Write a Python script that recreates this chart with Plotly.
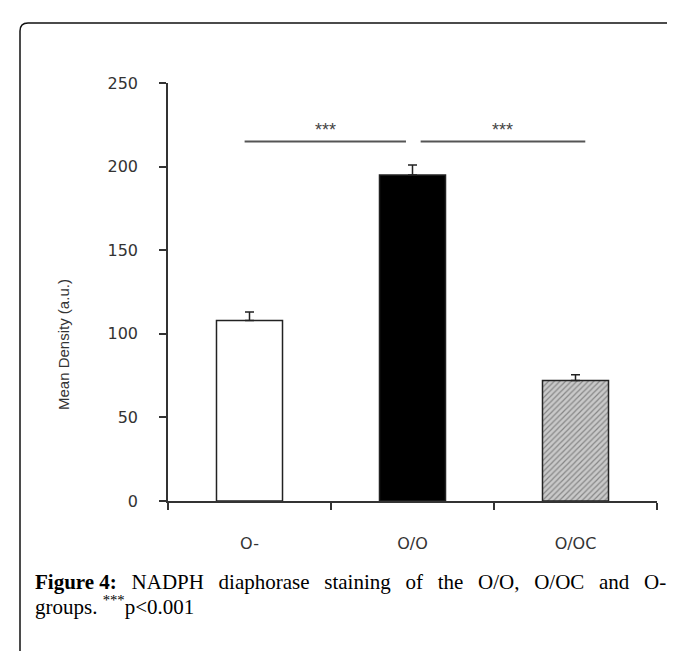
import plotly.graph_objects as go

# ---- data ----
categories = ["O-", "O/O", "O/OC"]
mean_density = [108, 195, 72]
sem = [5, 6, 3.5]
comparisons = [(0, 1, "***"), (1, 2, "***")]
sig_level = 215
y_ticks = [0, 50, 100, 150, 200, 250]
y_title = "Mean Density (a.u.)"
caption_bold = "Figure 4:"
caption_line1 = "NADPH diaphorase staining of the O/O, O/OC and O-"
caption_line2 = "groups. <sup>***</sup>p<0.001"

W, H = 675, 651
L, R, T, B = 160, 26, 75, 158
pw, ph = W - L - R, H - T - B


def px_x(px):
    return (px - L) / pw


def px_y(py):
    return (H - B - py) / ph


fig = go.Figure()

fills = ["white", "black", "#c9c9c9"]
patterns = ["", "", "/"]
fig.add_trace(go.Bar(
    x=categories,
    y=mean_density,
    width=0.405,
    marker=dict(
        color=fills,
        line=dict(color="#222222", width=1.5),
        pattern=dict(shape=patterns, fgcolor="#6a6a6a", bgcolor="#d4d4d4",
                     size=4, solidity=0.3),
    ),
    error_y=dict(type="data", array=sem, arrayminus=[0] * len(sem),
                 color="#222222", thickness=1.5, width=4.5),
    showlegend=False,
))

# significance brackets
shapes = []
annotations = []
for a, b, lab in comparisons:
    x0 = a - 0.03 if a == 0 else a + 0.05
    x1 = b - 0.04 if b == 1 else b + 0.06
    shapes.append(dict(type="line", xref="x", yref="y", x0=x0, x1=x1,
                       y0=sig_level, y1=sig_level,
                       line=dict(color="#555555", width=2)))
    annotations.append(dict(x=(x0 + x1) / 2, y=sig_level, xref="x", yref="y",
                            text=lab, showarrow=False, yanchor="bottom", yshift=0,
                            font=dict(family="Liberation Sans", size=18, color="#444")))

# frame (rounded top-left corner, runs off right and bottom)
fx0, fy0, r = 12, 15, 8
path = (f"M {px_x(fx0)} {px_y(H + 10)} L {px_x(fx0)} {px_y(fy0 + r)} "
        f"Q {px_x(fx0)} {px_y(fy0)} {px_x(fx0 + r)} {px_y(fy0)} "
        f"L {px_x(W + 10)} {px_y(fy0)}")
shapes.append(dict(type="path", xref="paper", yref="paper", path=path,
                   line=dict(color="#111111", width=1.5)))

# y title
annotations.append(dict(x=px_x(55), y=px_y(337), xref="paper", yref="paper",
                        text=y_title, textangle=-90, showarrow=False,
                        xanchor="center", yanchor="middle",
                        font=dict(family="Liberation Sans", size=15, color="#333")))

# caption
nb = "\u00a0\u00a0\u2009"
line1 = nb.join(caption_line1.split(" "))
annotations.append(dict(x=px_x(25), y=px_y(574), xref="paper", yref="paper",
                        text=f"<b>{caption_bold}</b>{nb}{line1}", showarrow=False,
                        xanchor="left", yanchor="middle", align="left",
                        font=dict(family="Liberation Serif", size=21, color="black")))
annotations.append(dict(x=px_x(25), y=px_y(597), xref="paper", yref="paper",
                        text=caption_line2, showarrow=False,
                        xanchor="left", yanchor="middle", align="left",
                        font=dict(family="Liberation Serif", size=21, color="black")))

fig.update_layout(
    width=W, height=H,
    margin=dict(l=L, r=R, t=T, b=B, pad=0),
    plot_bgcolor="white", paper_bgcolor="white",
    shapes=shapes, annotations=annotations,
    bargap=0.6,
)
fig.update_xaxes(type="category", range=[-0.5, 2.5], showline=True,
                 linecolor="#333", linewidth=1.5, ticks="outside",
                 tickson="boundaries", ticklen=7, tickwidth=1.5, tickcolor="#333",
                 showgrid=False, zeroline=False, ticklabelstandoff=27,
                 tickfont=dict(family="DejaVu Sans", size=16, color="#333"))
fig.update_yaxes(range=[0, 250], tickvals=y_ticks, showline=True,
                 linecolor="#333", linewidth=1.5, ticks="outside", ticklen=7,
                 tickwidth=1.5, tickcolor="#333", showgrid=False, zeroline=False,
                 ticklabelstandoff=18,
                 tickfont=dict(family="DejaVu Sans", size=16, color="#333"))

fig.write_html("out.html")
